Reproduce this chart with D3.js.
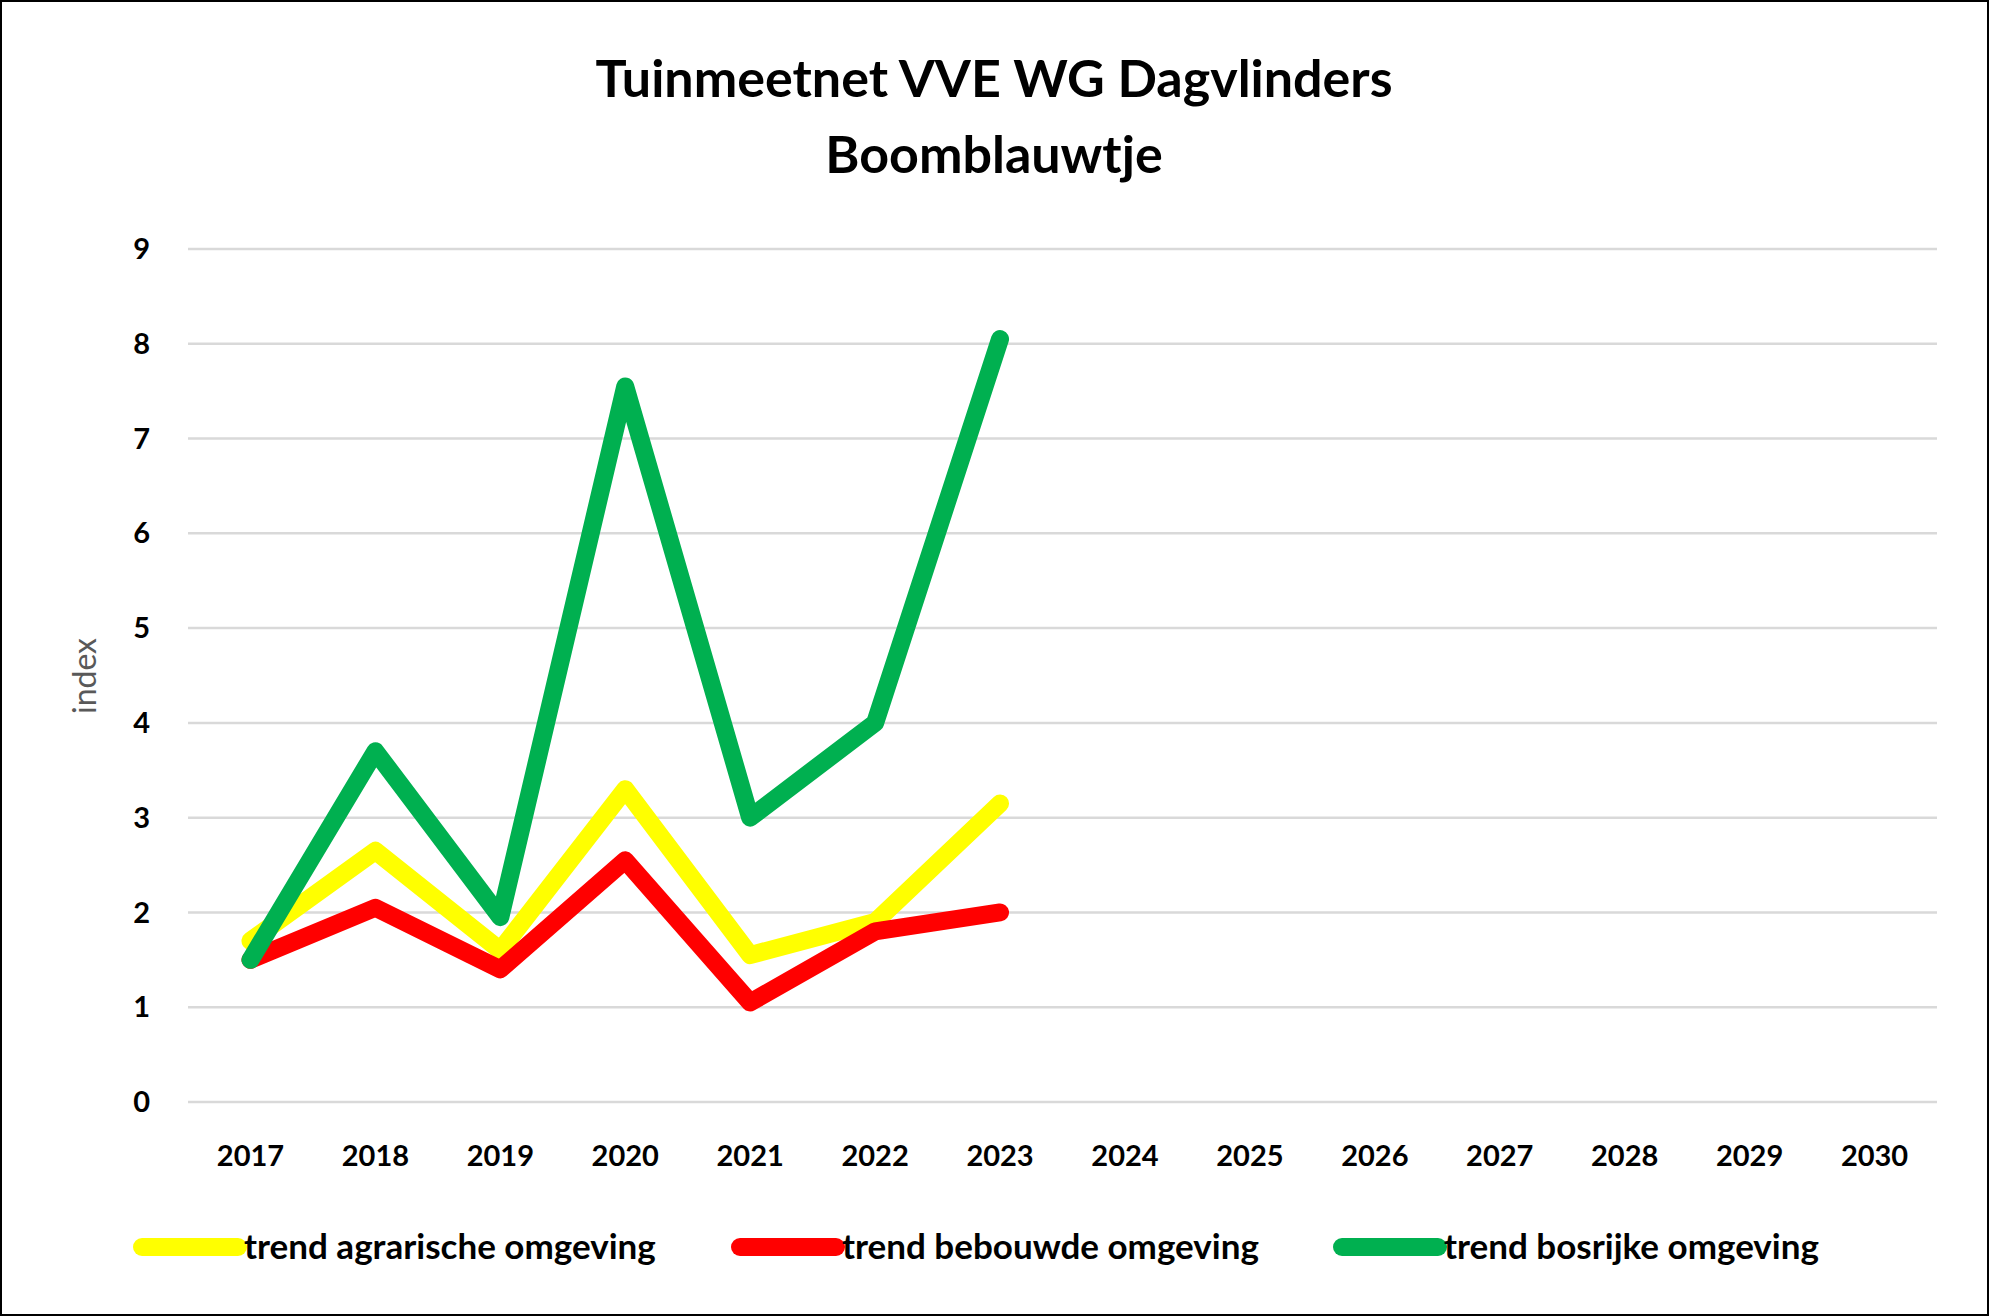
<!DOCTYPE html>
<html><head><meta charset="utf-8">
<script src="https://cdn.jsdelivr.net/npm/d3@7"></script>
<style>body{margin:0;background:#fff}svg{display:block;font-family:Lato,"Open Sans",sans-serif}</style>
</head><body><svg id="c" width="1989" height="1316"></svg>
<script>
const years = ["2017","2018","2019","2020","2021","2022","2023","2024","2025","2026","2027","2028","2029","2030"];
const agrarisch = [1.7, 2.65, 1.6, 3.3, 1.55, 1.9, 3.15];
const bebouwd = [1.5, 2.05, 1.4, 2.55, 1.05, 1.8, 2.0];
const bosrijk = [1.5, 3.7, 1.95, 7.55, 3.0, 4.0, 8.05];
const seriesNames = ["trend agrarische omgeving","trend bebouwde omgeving","trend bosrijke omgeving"];
const seriesColors = ["#ffff00","#ff0000","#00b050"];
const yTicks = [0,1,2,3,4,5,6,7,8,9];

const svg = d3.select("#c");
svg.append("rect").attr("x",1).attr("y",1).attr("width",1987).attr("height",1314).attr("fill","#fff").attr("stroke","#000").attr("stroke-width",2);
const L=188,R=1937,T=249,B=1102;
const x = d3.scaleBand().domain(years).range([L,R]);
const y = d3.scaleLinear().domain([0,9]).range([B,T]);

svg.append("g").selectAll("line").data(yTicks).join("line")
 .attr("x1",L).attr("x2",R).attr("y1",d=>y(d)).attr("y2",d=>y(d)).attr("stroke","#d9d9d9").attr("stroke-width",2.5);
svg.append("g").selectAll("text").data(yTicks).join("text")
 .attr("x",150).attr("y",d=>y(d)).attr("dy","0.35em").attr("text-anchor","end")
 .attr("font-size",29).attr("font-weight","bold").text(d=>d);
svg.append("g").selectAll("text").data(years).join("text")
 .attr("x",d=>x(d)+x.bandwidth()/2).attr("y",1156).attr("dy","0.35em").attr("text-anchor","middle")
 .attr("font-size",29).attr("font-weight","bold").text(d=>d);
svg.append("text").attr("transform","translate(96,676) rotate(-90)").attr("text-anchor","middle")
 .attr("font-size",32).attr("fill","#595959").text("index");
svg.append("text").attr("x",994).attr("y",79).attr("dy","0.35em").attr("text-anchor","middle").attr("font-size",52).attr("font-weight","bold").text("Tuinmeetnet VVE WG Dagvlinders");
svg.append("text").attr("x",994).attr("y",155).attr("dy","0.35em").attr("text-anchor","middle").attr("font-size",52).attr("font-weight","bold").text("Boomblauwtje");

const line = d3.line().x((d,i)=>x(years[i])+x.bandwidth()/2).y(d=>y(d));
[agrarisch,bebouwd,bosrijk].forEach((s,k)=>{
 svg.append("path").attr("d",line(s)).attr("fill","none").attr("stroke",seriesColors[k])
  .attr("stroke-width",18).attr("stroke-linecap","round").attr("stroke-linejoin","round");
});
const lx=[142,740,1342];
seriesNames.forEach((n,k)=>{
 svg.append("line").attr("x1",lx[k]).attr("x2",lx[k]+96).attr("y1",1247).attr("y2",1247)
  .attr("stroke",seriesColors[k]).attr("stroke-width",18).attr("stroke-linecap","round");
 svg.append("text").attr("x",lx[k]+102).attr("y",1247).attr("dy","0.35em").attr("font-size",35).attr("font-weight","bold").text(n);
});
</script></body></html>
